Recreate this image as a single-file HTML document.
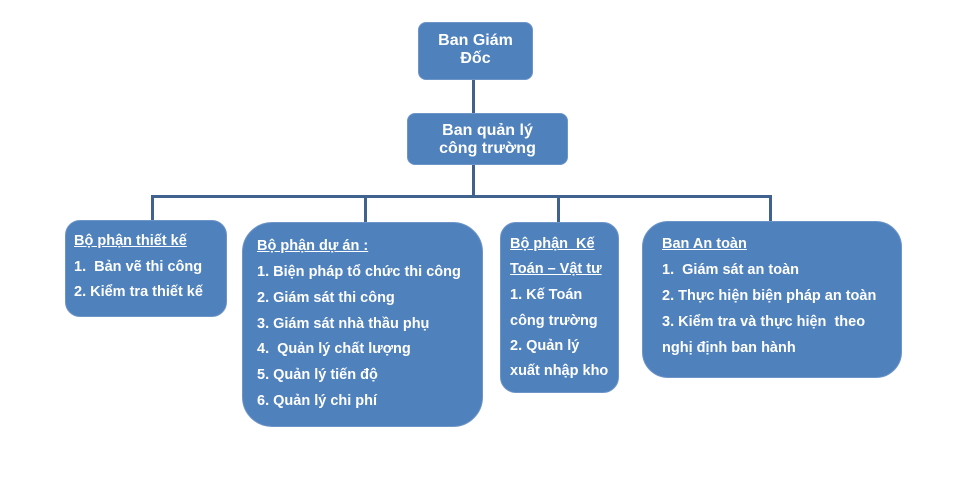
<!DOCTYPE html>
<html><head><meta charset="utf-8"><style>
body{margin:0;width:960px;height:491px;background:#fff;position:relative;overflow:hidden;font-family:"Liberation Sans",Arial,sans-serif;}
.b{position:absolute;background:#4f81bd;border:1px solid #6d95c8;color:#fff;font-weight:bold;box-sizing:border-box;}
.c{text-align:center;font-size:16px;line-height:18px;}
.l{position:absolute;background:#3f628f;}
.t{position:absolute;font-size:14.5px;white-space:nowrap;line-height:16px;}
u{text-decoration:underline;}
</style></head><body>
<div class="l" style="left:472px;top:80px;width:3px;height:34px"></div>
<div class="l" style="left:472px;top:164px;width:3px;height:33px"></div>
<div class="l" style="left:151px;top:195px;width:621px;height:3px"></div>
<div class="l" style="left:151px;top:195px;width:3px;height:27px"></div>
<div class="l" style="left:364px;top:195px;width:3px;height:28px"></div>
<div class="l" style="left:557px;top:195px;width:3px;height:28px"></div>
<div class="l" style="left:769px;top:195px;width:3px;height:28px"></div>

<div class="b c" style="left:418px;top:22px;width:115px;height:58px;border-radius:8px;padding-top:9px">Ban Giám<br>Đốc</div>
<div class="b c" style="left:407px;top:113px;width:161px;height:52px;border-radius:8px;padding-top:8px">Ban quản lý<br>công trường</div>

<div class="b" style="left:65px;top:220px;width:162px;height:97px;border-radius:15px">
<div class="t" style="left:8px;top:12px"><u>Bộ phận thiết kế</u></div>
<div class="t" style="left:8px;top:38px">1.&nbsp; Bản vẽ thi công</div>
<div class="t" style="left:8px;top:63px">2. Kiểm tra thiết kế</div>
</div>

<div class="b" style="left:242px;top:222px;width:241px;height:205px;border-radius:30px">
<div class="t" style="left:14px;top:15px"><u>Bộ phận dự án :</u></div>
<div class="t" style="left:14px;top:41px">1. Biện pháp tổ chức thi công</div>
<div class="t" style="left:14px;top:67px">2. Giám sát thi công</div>
<div class="t" style="left:14px;top:93px">3. Giám sát nhà thầu phụ</div>
<div class="t" style="left:14px;top:118px">4.&nbsp; Quản lý chất lượng</div>
<div class="t" style="left:14px;top:144px">5. Quản lý tiến độ</div>
<div class="t" style="left:14px;top:170px">6. Quản lý chi phí</div>
</div>

<div class="b" style="left:500px;top:222px;width:119px;height:171px;border-radius:16px">
<div class="t" style="left:9px;top:13px"><u>Bộ phận&nbsp; Kế</u></div>
<div class="t" style="left:9px;top:38px"><u>Toán – Vật tư</u></div>
<div class="t" style="left:9px;top:64px">1. Kế Toán</div>
<div class="t" style="left:9px;top:90px">công trường</div>
<div class="t" style="left:9px;top:115px">2. Quản lý</div>
<div class="t" style="left:9px;top:140px">xuất nhập kho</div>
</div>

<div class="b" style="left:642px;top:221px;width:260px;height:157px;border-radius:26px">
<div class="t" style="left:19px;top:14px"><u>Ban An toàn</u></div>
<div class="t" style="left:19px;top:40px">1.&nbsp; Giám sát an toàn</div>
<div class="t" style="left:19px;top:66px">2. Thực hiện biện pháp an toàn</div>
<div class="t" style="left:19px;top:92px">3. Kiểm tra và thực hiện&nbsp; theo</div>
<div class="t" style="left:19px;top:118px">nghị định ban hành</div>
</div>
</body></html>
